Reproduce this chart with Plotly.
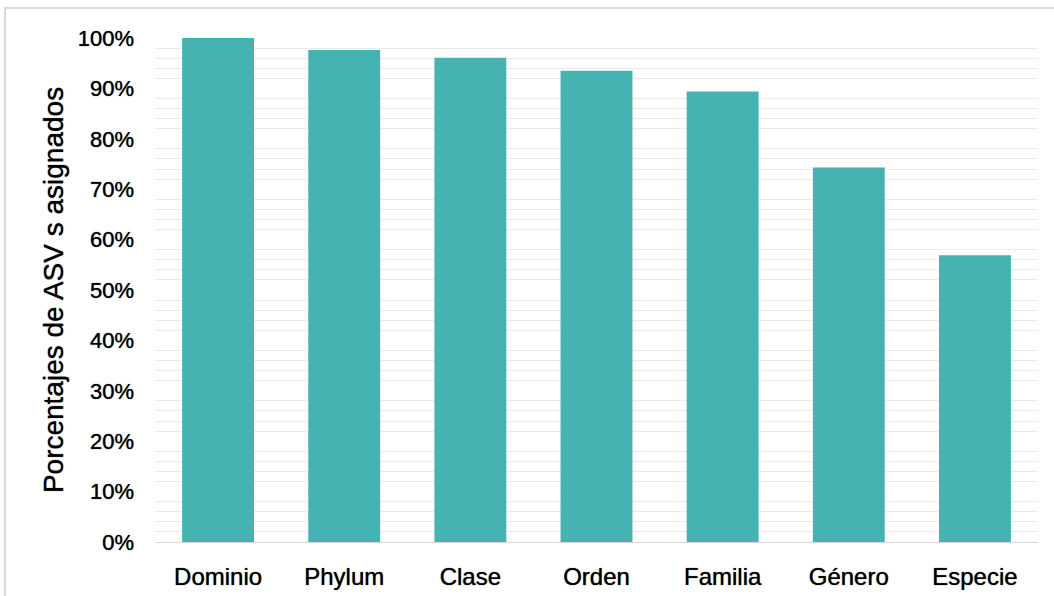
import plotly.graph_objects as go

categories = ["Dominio", "Phylum", "Clase", "Orden", "Familia", "Género", "Especie"]
values = [1.000, 0.976, 0.961, 0.935, 0.894, 0.743, 0.569]

W, H = 1054, 596
ml, mr, mt, mb = 155, 16, 38, 54
pw, ph = W - ml - mr, H - mt - mb

halo = "0px 0px 1px rgba(0,0,0,0.85)"

fig = go.Figure(go.Bar(
    x=categories, y=values,
    marker=dict(color="#45B3B2", line=dict(width=0)),
    width=0.57,
))

fig.update_layout(
    width=W, height=H,
    margin=dict(l=ml, r=mr, t=mt, b=mb, autoexpand=False),
    paper_bgcolor="white", plot_bgcolor="white",
    font=dict(family="Liberation Sans, Arial, sans-serif", color="#000000"),
    showlegend=False,
    bargap=0.43,
)

fig.update_yaxes(
    range=[0, 1], dtick=0.1, tickformat=".0%",
    showgrid=False, zeroline=False,
    minor=dict(dtick=0.02, showgrid=True, gridcolor="#ebebeb", gridwidth=1),
    tickfont=dict(size=22, shadow=halo),
    ticklabelstandoff=20,
    title=dict(text="Porcentajes de ASV s asignados",
               font=dict(size=28, shadow=halo), standoff=5),
    automargin=False,
)
fig.update_xaxes(
    showline=True, linecolor="#d9d9d9", linewidth=1,
    tickfont=dict(size=24, shadow=halo),
    ticklabelstandoff=13,
    automargin=False,
)

# outer chart border (top and left visible in the reference)
fig.add_shape(
    type="rect", xref="paper", yref="paper",
    x0=(5 - ml) / pw, x1=(W + 20 - ml) / pw,
    y0=-(H + 20 - mt - ph) / ph, y1=(H - 8 - mb) / ph,
    line=dict(color="#d9d9d9", width=2), fillcolor="rgba(0,0,0,0)", layer="below",
)

fig.write_html("out.html")
